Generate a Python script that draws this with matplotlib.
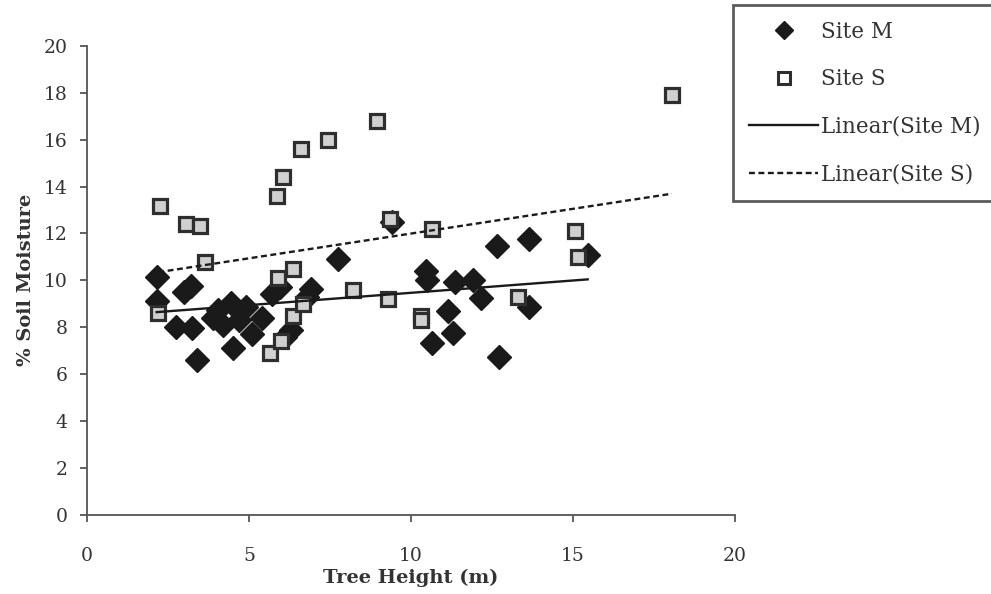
import numpy as np
import matplotlib.pyplot as plt
from matplotlib.lines import Line2D

# Site M (filled diamonds)
m_height = [2.15, 2.15, 2.75, 3.0, 3.2, 3.25, 3.4, 3.9, 4.05, 4.2, 4.45, 4.5, 4.7,
            4.9, 5.1, 5.4, 5.7, 5.95, 6.1, 6.3, 6.8, 6.9, 7.75, 9.4, 10.45, 10.5,
            10.65, 11.15, 11.3, 11.35, 11.9, 12.15, 12.65, 12.7, 13.65, 13.65, 15.45]
m_moist = [10.15, 9.1, 8.0, 9.5, 9.75, 7.95, 6.6, 8.4, 8.75, 8.1, 9.05, 7.1, 8.3,
           8.85, 7.7, 8.4, 9.4, 9.7, 7.6, 7.9, 9.3, 9.65, 10.9, 12.5, 10.4, 10.0,
           7.35, 8.7, 7.75, 9.95, 10.0, 9.25, 11.45, 6.75, 11.75, 8.85, 11.1]

# Site S (open squares)
s_height = [2.25, 2.2, 3.05, 3.5, 3.65, 5.65, 5.85, 5.9, 6.0, 6.05, 6.35, 6.35, 6.6,
            6.65, 7.45, 8.2, 8.95, 9.3, 9.35, 10.3, 10.3, 10.65, 13.3, 15.05, 15.15, 18.05]
s_moist = [13.15, 8.6, 12.4, 12.3, 10.8, 6.9, 13.6, 10.1, 7.4, 14.4, 10.5, 8.5, 15.6,
           9.0, 16.0, 9.6, 16.8, 9.2, 12.6, 8.5, 8.3, 12.2, 9.3, 12.1, 11.0, 17.9]

# trendline coefficients (slope, intercept)
trend_m = (0.105, 8.42)
trend_s = (0.211, 9.885)

plt.rcParams['font.family'] = ['DejaVu Serif']

fig = plt.figure(figsize=(9.91, 5.94), dpi=100)
ax = fig.add_axes([0.0878, 0.133, 0.654, 0.79])

ax.plot(m_height, m_moist, linestyle='none', marker='D', ms=12,
        color='#1a1a1a', mec='#1a1a1a', zorder=3)
ax.plot(s_height, s_moist, linestyle='none', marker='s', ms=10.5, mew=2.3,
        mfc='#d0d0d0', mec='#2e2e2e', zorder=4)

# linear trend lines over each series' range
for xs, (k, b), ls in [(m_height, trend_m, '-'), (s_height, trend_s, (0, (2.5, 1.5)))]:
    xx = np.array([min(xs), max(xs)])
    ax.plot(xx, k * xx + b, color='#1a1a1a', lw=1.7, linestyle=ls, zorder=5)

ax.set_xlim(0, 20)
ax.set_ylim(0, 20)
ax.set_xticks(range(0, 21, 5))
ax.set_yticks(range(0, 21, 2))
for side in ['top', 'right']:
    ax.spines[side].set_visible(False)
for side in ['left', 'bottom']:
    ax.spines[side].set_color('#555555')
    ax.spines[side].set_linewidth(1.3)
ax.tick_params(direction='out', length=5, width=1.3, color='#555555',
               labelsize=13.5, labelcolor='#333333')
ax.tick_params(axis='x', pad=18)
ax.tick_params(axis='y', pad=9)

ax.set_xlabel('Tree Height (m)', fontsize=14, fontweight='bold', color='#333333', labelpad=3)
ax.set_ylabel('% Soil Moisture', fontsize=14, fontweight='bold', color='#333333', labelpad=6)

handles = [
    Line2D([], [], linestyle='none', marker='D', ms=9, color='#1a1a1a'),
    Line2D([], [], linestyle='none', marker='s', ms=8.5, mew=2.2, mfc='white', mec='#2e2e2e'),
    Line2D([], [], color='#1a1a1a', lw=1.7),
    Line2D([], [], color='#1a1a1a', lw=1.7, linestyle=(0, (2.5, 1.5))),
]
labels = ['Site M', 'Site S', 'Linear(Site M)', 'Linear(Site S)']
leg = fig.legend(handles, labels, loc='upper left', bbox_to_anchor=(0.7397, 0.992),
                 fontsize=15.5, frameon=True, fancybox=False, handlelength=3.2,
                 handletextpad=0.15, labelspacing=1.18, borderpad=0.75,
                 borderaxespad=0)
leg.get_frame().set_edgecolor('#333333')
leg.get_frame().set_linewidth(2)
for t in leg.get_texts():
    t.set_color('#333333')

fig.savefig('out.png', dpi=100)
